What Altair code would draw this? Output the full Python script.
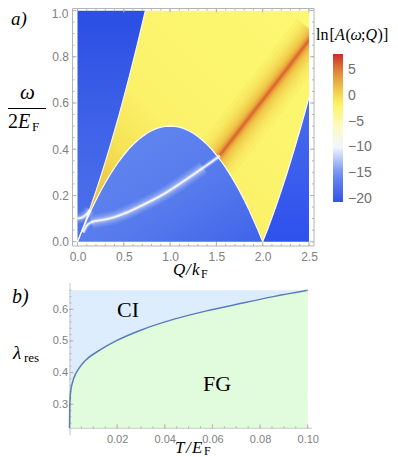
import altair as alt
import pandas as pd

# ---------- panel a: region edges
Q_GRID = [0,.05,.1,.15,.2,.25,.3,.35,.4,.45,.5,.55,.6,.65,.7,.733,.75,.8,.85,.9,.95,1,
          1.05,1.1,1.15,1.2,1.25,1.3,1.35,1.4,1.45,1.5,1.55,1.6,1.65,1.7,1.75,1.8,1.85,1.9,1.95,2,
          2.05,2.1,2.15,2.2,2.25,2.3,2.35,2.4,2.45,2.5]
LOWER_EDGE = [0,.049,.095,.139,.18,.219,.255,.289,.32,.349,.375,.399,.42,.439,.455,.464,.469,.48,.489,.495,.499,.5,
              .499,.495,.489,.48,.469,.455,.439,.42,.399,.375,.349,.32,.289,.255,.219,.18,.139,.095,.049,0,
              .051,.105,.161,.22,.281,.345,.411,.48,.551,.625]
UPPER_EDGE = [0,.051,.105,.161,.22,.281,.345,.411,.48,.551,.625,.701,.78,.861,.945,1,1,1,1,1,1,1,
              1,1,1,1,1,1,1,1,1,1,1,1,1,1,1,1,1,1,1,1,
              1,1,1,1,1,1,1,1,1,1]
N_LEFT = 16   # points up to where the upper edge leaves the frame
N_ARC = 42    # points up to the cusp

RIDGE_Q = [1.4, 1.54, 1.79, 2.15, 2.5, 2.56]
RIDGE_W = [.305, .375, .505, .69, .872, .903]
STREAK_Q = [.06, .1, .15, .19, .28, .387, .5, .64, .927, 1.14, 1.358, 1.54]
STREAK_W = [.04, .07, .084, .089, .095, .105, .121, .146, .205, .26, .32, .372]
STUB_Q = [0, .05, .1, .135]
STUB_W = [.1, .105, .12, .138]

COLOR_STOPS = [-20.5, -15, -10, -6, -2, 1, 5, 8]
COLOR_RANGE = ["#3354E6", "#6E8EF0", "#F2F5FE", "#FBFBC4", "#FCF56C", "#F0CE4A", "#DE7F38", "#CF2A2A"]
COLOR_TICKS = [-20, -15, -10, -5, 0, 5]

AX_MAJOR = [0, .5, 1, 1.5, 2, 2.5]
AX_MINOR = [0,.1,.2,.3,.4,.5,.6,.7,.8,.9,1,1.1,1.2,1.3,1.4,1.5,1.6,1.7,1.8,1.9,2,2.1,2.2,2.3,2.4,2.5]
AY_LABELS = [0, .2, .4, .6, .8]
AY_TOP_LABEL = [1.0]
AY_MAJOR = [0, .2, .4, .6, .8, 1]
AY_MINOR = [0,.05,.1,.15,.2,.25,.3,.35,.4,.45,.5,.55,.6,.65,.7,.75,.8,.85,.9,.95,1]

# ---------- panel b
T_VALS = [0, .0001, .0004, .0013, .0027, .0041, .0069, .0125, .0195, .0296, .0436, .0576, .0716, .0856, .1]
LAM_VALS = [.224, .29, .335, .37, .397, .415, .44, .47, .5, .533, .568, .595, .618, .64, .66]
BX_MAJOR = [.02, .04, .06, .08, .1]
BX_MINOR = [.005,.01,.015,.02,.025,.03,.035,.04,.045,.05,.055,.06,.065,.07,.075,.08,.085,.09,.095,.1]
BY_MAJOR = [.3, .4, .5, .6]
BY_MINOR = [.24,.26,.28,.3,.32,.34,.36,.38,.4,.42,.44,.46,.48,.5,.52,.54,.56,.58,.6,.62,.64,.66]

OX = 69.5
AY0, BY0 = 8, 283
AW, AH = 244.5, 238
BW, BH = 242.5, 145.3
SERIF = "Liberation Serif"
SANS = "Liberation Sans"
GRAY = "#808080"
FRAME = "#B4B4B4"

edges = pd.DataFrame({"q": Q_GRID, "lo": LOWER_EDGE, "up": UPPER_EDGE})
one = pd.DataFrame({"a": [0]})

xa_scale = alt.Scale(domain=[-.0864, 2.554], nice=False, zero=False)
ya_scale = alt.Scale(domain=[-.0186, 1.0108], nice=False, zero=False)
xa_axis = alt.Axis(values=AX_MAJOR, format=".1f", grid=False, domain=False, ticks=False,
                   labelFontSize=12, labelFont=SANS, labelColor=GRAY, labelPadding=5)
ya_axis = alt.Axis(values=AY_LABELS, format=".1f", grid=False, domain=False, ticks=False,
                   labelFontSize=12, labelFont=SANS, labelColor=GRAY, labelPadding=1)
xa = alt.X("q:Q", title=None, scale=xa_scale, axis=xa_axis)
ya = alt.Y("lo:Q", title=None, scale=ya_scale, axis=ya_axis)


def grad(stops, x1=0, y1=1, x2=0, y2=0):
    return alt.LinearGradient(gradient="linear", x1=x1, y1=y1, x2=x2, y2=y2,
                              stops=[alt.GradientStop(offset=o, color=c) for o, c in stops])


def band(df, y, y2, fill):
    return alt.Chart(df).mark_area(color=fill, interpolate="linear").encode(
        x=xa, y=alt.Y(y + ":Q", title=None, scale=ya_scale, axis=ya_axis), y2=alt.Y2(y2))


def path(qs, ws, width, color, opacity=1.0, interp="monotone"):
    d = pd.DataFrame({"q": qs, "lo": ws})
    return alt.Chart(d).mark_line(strokeWidth=width, color=color, opacity=opacity, strokeCap="butt",
                                  interpolate=interp, clip=True).encode(x=xa, y=ya)


def txt(s, px, py, size, y0, style="normal", font=SERIF, color="black"):
    return alt.Chart(one).mark_text(text=s, font=font, fontSize=size, fontStyle=style, align="left",
                                    baseline="alphabetic", color=color).encode(
        x=alt.value(px - OX), y=alt.value(py - y0))


def vticks(vals, xenc, y1, y2, color=FRAME):
    d = pd.DataFrame({"q": vals})
    return alt.Chart(d).mark_rule(color=color, strokeWidth=1).encode(
        x=xenc, y=alt.value(y1), y2=alt.value(y2))


def hticks(vals, yenc, x1, x2, color=FRAME):
    d = pd.DataFrame({"lo": vals})
    return alt.Chart(d).mark_rule(color=color, strokeWidth=1).encode(
        y=yenc, x=alt.value(x1), x2=alt.value(x2))


yellow_fill = grad([(0, "#E4A22C"), (.14, "#EDC242"), (.3, "#F6E356"), (.45, "#FBF26A"), (1, "#FDF872")],
                   x1=0, y1=1, x2=1, y2=0)
left_fill = grad([(0, "#4E73EA"), (.5, "#3F62E8"), (1, "#2B4EE4")])
arc_fill = grad([(0, "#3F63EA"), (.5, "#567AEC"), (1, "#6084EE")], x1=1, y1=1, x2=.2, y2=.2)
right_fill = grad([(0, "#2E50EE"), (1, "#4A6DEA")])

glow = [(46, "#F6E052", .18), (38, "#F3D44C", .18), (31, "#F0C846", .2), (25, "#EEBC40", .22),
        (20, "#ECB03C", .22), (15, "#EAA238", .24), (11, "#E89234", .26), (8, "#E48232", .32),
        (5, "#DF7030", .45), (2.5, "#D9602C", .7)]
halo = [(14, .07), (11, .09), (8, .12), (5, .2), (3, .35), (1.6, .85)]

layers = [band(edges, "lo", "up", yellow_fill)]
layers += [path(RIDGE_Q, RIDGE_W, w, c, o, "linear") for w, c, o in glow]
layers += [
    band(edges.iloc[:N_LEFT].assign(top=1.0), "up", "top", left_fill),
    band(edges.iloc[:N_ARC].assign(bot=0.0), "bot", "lo", arc_fill),
    band(edges.iloc[N_ARC - 1:].assign(bot=0.0), "bot", "lo", right_fill),
]
layers += [path(STREAK_Q[2:-1], STREAK_W[2:-1], w, "#FFFFFF", o) for w, o in halo[:3]]
layers += [path(STREAK_Q, STREAK_W, w, "#FFFFFF", o) for w, o in halo[3:]]
layers += [path(STUB_Q, STUB_W, w, "#FFFFFF", o) for w, o in halo[1:]]
layers += [
    path(Q_GRID[:N_LEFT], UPPER_EDGE[:N_LEFT], 1.1, "#FFFFFF", .9),
    path(Q_GRID, LOWER_EDGE, 1.2, "#FFFFFF", .95, "linear"),
    # white margin between picture and frame
    alt.Chart(pd.DataFrame({"q": [2.5], "q2": [2.554]})).mark_rect(color="white").encode(
        x=xa, x2="q2", y=alt.value(0), y2=alt.value(AH)),
    alt.Chart(pd.DataFrame({"lo": [1.0], "top": [1.0108]})).mark_rect(color="white").encode(
        y=ya, y2="top", x=alt.value(0), x2=alt.value(AW)),
    # frame and ticks
    alt.Chart(one).mark_rule(color=FRAME).encode(x=alt.value(3), x2=alt.value(AW), y=alt.value(.5)),
    alt.Chart(one).mark_rule(color=FRAME).encode(x=alt.value(3), x2=alt.value(AW), y=alt.value(AH)),
    alt.Chart(one).mark_rule(color=FRAME).encode(y=alt.value(.5), y2=alt.value(AH), x=alt.value(3)),
    alt.Chart(one).mark_rule(color=FRAME).encode(y=alt.value(.5), y2=alt.value(AH), x=alt.value(AW)),
    vticks(AX_MAJOR, xa, AH - 4, AH),
    vticks(AX_MINOR, xa, AH - 2, AH),
    vticks(AX_MAJOR, xa, .5, 4.5),
    vticks(AX_MINOR, xa, .5, 2.5),
    hticks(AY_MAJOR, ya, 3, 7),
    hticks(AY_MINOR, ya, 3, 5),
    hticks(AY_MAJOR, ya, AW - 4, AW),
    hticks(AY_MINOR, ya, AW - 2, AW),
    # topmost y label sits just inside the page margin
    alt.Chart(pd.DataFrame({"lo": AY_TOP_LABEL})).mark_text(
        text="1.0", font=SANS, fontSize=12, color=GRAY, align="right", baseline="middle", dy=3.5, dx=-1
    ).encode(y=ya, x=alt.value(0)),
    # invisible layer that carries the colour bar
    alt.Chart(pd.DataFrame({"v": COLOR_STOPS})).mark_point(opacity=0).encode(
        x=alt.value(0), y=alt.value(0),
        color=alt.Color("v:Q", scale=alt.Scale(domain=COLOR_STOPS, range=COLOR_RANGE, interpolate="rgb"),
                        legend=alt.Legend(title=None, orient="none", legendX=263.5, legendY=46,
                                          direction="vertical", gradientLength=148, gradientThickness=10,
                                          values=COLOR_TICKS, labelFont=SANS, labelFontSize=14,
                                          labelColor="#707070", labelOffset=5, labelOverlap=False,
                                          gradientStrokeWidth=0))),
    # texts
    txt("a)", 11, 24.5, 19, AY0, "italic"),
    txt("ω", 20, 99, 21, AY0, "italic"),
    alt.Chart(one).mark_rule(color="black", strokeWidth=1).encode(
        x=alt.value(8 - OX), x2=alt.value(46 - OX), y=alt.value(108.5 - AY0)),
    txt("2", 8, 128, 20, AY0),
    txt("E", 18, 128, 20, AY0, "italic"),
    txt("F", 32, 131, 13, AY0),
    txt("Q", 173, 275, 17, AY0, "italic"),
    txt("/", 186, 275, 17, AY0, "italic"),
    txt("k", 192, 275, 17, AY0, "italic"),
    txt("F", 201, 278, 12, AY0),
    txt("ln", 316, 40, 16, AY0),
    txt("[", 329.5, 40, 16, AY0),
    txt("A", 335, 40, 16, AY0, "italic"),
    txt("(", 345.5, 40, 16, AY0),
    txt("ω", 350.5, 40, 16, AY0, "italic"),
    txt(";", 361, 40, 16, AY0),
    txt("Q", 365.5, 40, 16, AY0, "italic"),
    txt(")", 377.5, 40, 16, AY0),
    txt("]", 383, 40, 16, AY0),
]
panel_a = alt.layer(*layers).properties(width=AW, height=AH)

# ---------- panel b
xb_scale = alt.Scale(domain=[0, .1018], nice=False, zero=False)
yb_scale = alt.Scale(domain=[.224, .683], nice=False, zero=False)
yb_axis = alt.Axis(values=BY_MAJOR, format=".1f", grid=False, domain=False, ticks=False,
                   labelFontSize=11, labelFont=SANS, labelColor=GRAY, labelPadding=2)
xb = alt.X("t:Q", title=None, scale=xb_scale,
           axis=alt.Axis(values=BX_MAJOR, format=".2f", grid=False, domain=False, ticks=False,
                         labelFontSize=11, labelFont=SANS, labelColor=GRAY, labelPadding=5))
yb = alt.Y("lam:Q", title=None, scale=yb_scale, axis=yb_axis)
curve = pd.DataFrame({"t": T_VALS, "lam": LAM_VALS, "top": [.66] * len(T_VALS), "bot": [.224] * len(T_VALS)})


def btick_x(vals, y1, y2):
    return alt.Chart(pd.DataFrame({"t": vals})).mark_rule(color=FRAME).encode(
        x=xb, y=alt.value(y1), y2=alt.value(y2))


def btick_y(vals, x1, x2):
    return alt.Chart(pd.DataFrame({"lam": vals})).mark_rule(color=FRAME).encode(
        y=yb, x=alt.value(x1), x2=alt.value(x2))


panel_b = alt.layer(
    alt.Chart(curve).mark_area(color="#DDEDFE", interpolate="monotone").encode(x=xb, y=yb, y2="top"),
    alt.Chart(curve).mark_area(color="#E1FCDD", interpolate="monotone").encode(
        x=xb, y=alt.Y("bot:Q", title=None, scale=yb_scale, axis=yb_axis), y2="lam"),
    alt.Chart(one).mark_rule(color="#C8C8C8").encode(x=alt.value(.5), y=alt.value(0), y2=alt.value(BH + 7)),
    alt.Chart(one).mark_rule(color="#C8C8C8").encode(x=alt.value(0), x2=alt.value(BW), y=alt.value(BH)),
    btick_x(BX_MAJOR, BH - 4, BH),
    btick_x(BX_MINOR, BH - 2, BH),
    btick_y(BY_MAJOR, 0, 4),
    btick_y(BY_MINOR, 0, 2),
    alt.Chart(curve).mark_line(color="#5B7CB8", strokeWidth=1.5, interpolate="monotone").encode(x=xb, y=yb),
    txt("b)", 12, 303, 20, BY0, "italic"),
    txt("λ", 13, 359, 19, BY0, "italic"),
    txt("res", 24, 362, 13, BY0),
    txt("CI", 117, 317, 22, BY0),
    txt("FG", 203, 391, 22, BY0),
    txt("T", 175, 452.5, 17, BY0, "italic"),
    txt("/", 186, 452.5, 17, BY0, "italic"),
    txt("E", 192, 452.5, 17, BY0, "italic"),
    txt("F", 204, 454.5, 12, BY0),
).properties(width=BW, height=BH)

chart = alt.vconcat(panel_a, panel_b, spacing=37, bounds="flush").properties(
    autosize=alt.AutoSizeParams(type="none"),
    padding={"left": OX - 8, "top": 0, "right": 382 - (OX - 8), "bottom": 449},
).resolve_scale(
    x="independent", y="independent", color="independent"
).configure_view(stroke=None)

chart.save("out.html", embed_options={"renderer": "svg", "actions": False})
